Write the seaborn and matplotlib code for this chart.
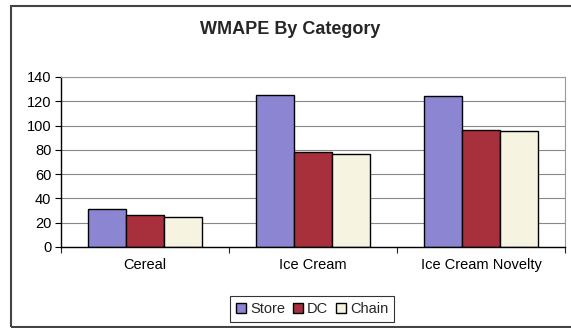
import pandas as pd
import seaborn as sns
import matplotlib.pyplot as plt
from matplotlib.patches import Rectangle
from matplotlib.ticker import FixedLocator

categories = ["Cereal", "Ice Cream", "Ice Cream Novelty"]
store = [31, 125, 124.5]
dc = [26, 78, 96.5]
chain = [24.5, 77, 95.5]
series = ["Store", "DC", "Chain"]
colors = ["#8c86d2", "#a8303c", "#f6f4e0"]

df = pd.DataFrame({
    "category": categories * 3,
    "series": ["Store"] * 3 + ["DC"] * 3 + ["Chain"] * 3,
    "value": store + dc + chain,
})

sns.set_style("white")
plt.rcParams['font.family'] = ['Liberation Sans', 'DejaVu Sans']

fig = plt.figure(figsize=(5.71, 3.28), dpi=100)
ax = fig.add_axes([61 / 571, 1 - 247 / 328, 504 / 571, 170 / 328])

sns.barplot(data=df, x="category", y="value", hue="series", hue_order=series,
            palette=colors, width=0.68, edgecolor="black", linewidth=1.0,
            saturation=1, ax=ax)

ax.set_ylim(0, 140)
ax.set_xlim(-0.5, 2.5)
ax.set_yticks(range(0, 141, 20))
ax.yaxis.grid(True, color="#888888", linewidth=0.8)
ax.set_axisbelow(True)
ax.set_xlabel("")
ax.set_ylabel("")
ax.tick_params(axis="both", labelsize=10.5, colors="black")
ax.tick_params(axis="x", length=0, pad=8)
ax.tick_params(axis="y", length=4, width=0.8, direction="out", left=True, pad=3)
ax.xaxis.set_minor_locator(FixedLocator([-0.5, 0.5, 1.5, 2.5]))
ax.tick_params(axis="x", which="minor", length=4, width=0.8, direction="out", bottom=True)
for s in ["top", "right"]:
    ax.spines[s].set_color("#999999")
    ax.spines[s].set_linewidth(0.8)
for s in ["left", "bottom"]:
    ax.spines[s].set_color("black")
    ax.spines[s].set_linewidth(1.0)

fig.text(290 / 571, 1 - 30 / 328, "WMAPE By Category", ha="center", va="center",
         fontsize=13, fontweight="bold")

leg = ax.legend(loc="center", bbox_to_anchor=(312 / 571, 1 - 309 / 328),
                bbox_transform=fig.transFigure, ncol=3, fontsize=10.5,
                frameon=True, fancybox=False, edgecolor="black",
                handlelength=0.7, handleheight=0.7, handletextpad=0.3,
                columnspacing=0.5, borderpad=0.4)
leg.get_frame().set_linewidth(0.8)

fig.patches.append(Rectangle((11 / 571, 1 - 327 / 328), 1.0, 321 / 328,
                             transform=fig.transFigure, fill=False,
                             edgecolor="#444444", linewidth=1.5))

fig.savefig("out.png", dpi=100)
